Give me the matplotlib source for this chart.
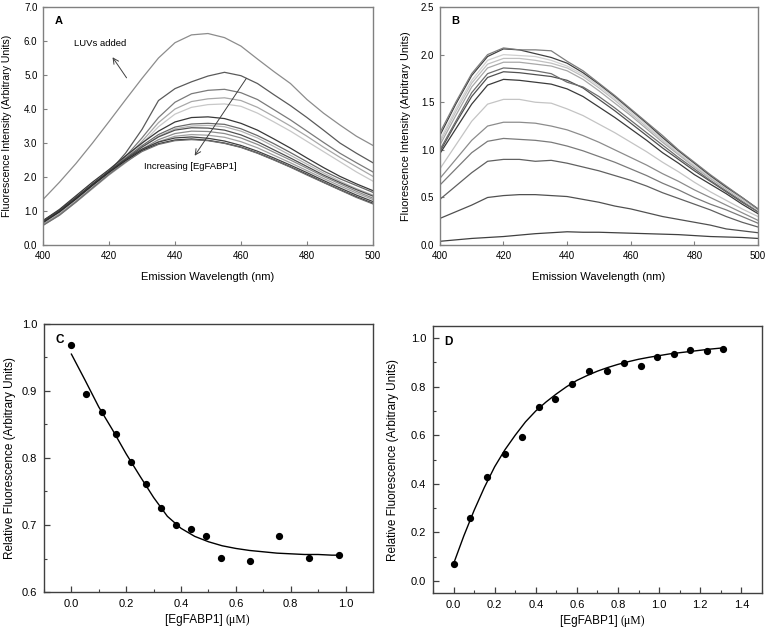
import numpy as np
import matplotlib
matplotlib.use("Agg")
import matplotlib.pyplot as plt

plt.rcParams['font.family'] = ['Liberation Sans', 'DejaVu Sans']

# ---- panel A: tryptophan-like emission spectra (5 nm steps, 400-500 nm)
wl = np.arange(400, 501, 5)
a_curves = [
    [1.34, 1.85, 2.40, 3.00, 3.63, 4.27, 4.90, 5.50, 5.95, 6.18, 6.22, 6.10, 5.85, 5.47, 5.10, 4.75, 4.28, 3.88, 3.53, 3.20, 2.93],
    [0.72, 1.02, 1.40, 1.78, 2.15, 2.70, 3.40, 4.25, 4.60, 4.80, 4.97, 5.08, 4.98, 4.75, 4.42, 4.10, 3.75, 3.38, 3.00, 2.70, 2.42],
    [0.68, 0.98, 1.35, 1.75, 2.15, 2.60, 3.15, 3.75, 4.20, 4.45, 4.55, 4.58, 4.48, 4.28, 3.98, 3.68, 3.35, 3.02, 2.70, 2.42, 2.15],
    [0.65, 0.95, 1.33, 1.72, 2.12, 2.55, 3.05, 3.60, 4.00, 4.22, 4.30, 4.33, 4.25, 4.05, 3.78, 3.50, 3.20, 2.88, 2.58, 2.30, 2.02],
    [0.62, 0.92, 1.30, 1.70, 2.10, 2.50, 2.98, 3.48, 3.85, 4.05, 4.13, 4.15, 4.08, 3.88, 3.62, 3.35, 3.05, 2.75, 2.45, 2.15, 1.88],
    [0.72, 1.05, 1.45, 1.85, 2.22, 2.62, 3.00, 3.35, 3.62, 3.75, 3.77, 3.72, 3.58, 3.38, 3.12, 2.85, 2.56, 2.28, 2.02, 1.80, 1.60],
    [0.70, 1.00, 1.38, 1.78, 2.16, 2.55, 2.92, 3.25, 3.47, 3.56, 3.58, 3.55, 3.42, 3.22, 2.98, 2.72, 2.45, 2.18, 1.95, 1.75, 1.55],
    [0.62, 0.92, 1.30, 1.70, 2.10, 2.50, 2.88, 3.20, 3.42, 3.50, 3.52, 3.48, 3.35, 3.15, 2.90, 2.64, 2.38, 2.12, 1.88, 1.66, 1.47],
    [0.68, 0.98, 1.36, 1.76, 2.14, 2.52, 2.88, 3.18, 3.38, 3.45, 3.44, 3.38, 3.24, 3.04, 2.80, 2.56, 2.31, 2.06, 1.84, 1.63, 1.44],
    [0.60, 0.90, 1.28, 1.68, 2.08, 2.46, 2.82, 3.10, 3.28, 3.35, 3.34, 3.28, 3.15, 2.96, 2.73, 2.50, 2.26, 2.02, 1.80, 1.58, 1.38],
    [0.58, 0.88, 1.26, 1.66, 2.06, 2.42, 2.78, 3.04, 3.20, 3.25, 3.23, 3.17, 3.04, 2.86, 2.64, 2.42, 2.19, 1.96, 1.74, 1.53, 1.34],
    [0.70, 1.02, 1.40, 1.80, 2.18, 2.52, 2.82, 3.03, 3.15, 3.18, 3.14, 3.06, 2.93, 2.76, 2.56, 2.35, 2.13, 1.90, 1.68, 1.47, 1.28],
    [0.66, 0.98, 1.36, 1.76, 2.14, 2.48, 2.78, 2.98, 3.09, 3.12, 3.08, 3.00, 2.88, 2.71, 2.51, 2.30, 2.08, 1.85, 1.63, 1.42, 1.23],
    [0.58, 0.88, 1.27, 1.68, 2.08, 2.44, 2.75, 2.96, 3.07, 3.10, 3.07, 2.99, 2.87, 2.70, 2.50, 2.29, 2.06, 1.84, 1.62, 1.40, 1.21],
]
a_colors = ['#8c8c8c', '#5a5a5a', '#7a7a7a', '#a8a8a8', '#c8c8c8', '#383838', '#6a6a6a',
            '#b4b4b4', '#505050', '#8c8c8c', '#a0a0a0', '#404040', '#2a2a2a', '#707070']

# ---- panel B: probe emission spectra
b_curves = [
    [0.04, 0.055, 0.07, 0.08, 0.09, 0.105, 0.12, 0.13, 0.14, 0.135, 0.135, 0.13, 0.125, 0.12, 0.115, 0.11, 0.10, 0.09, 0.085, 0.08, 0.07],
    [0.28, 0.35, 0.42, 0.50, 0.52, 0.53, 0.53, 0.52, 0.51, 0.48, 0.45, 0.41, 0.38, 0.34, 0.30, 0.27, 0.24, 0.21, 0.17, 0.15, 0.13],
    [0.48, 0.62, 0.76, 0.88, 0.90, 0.90, 0.88, 0.89, 0.86, 0.82, 0.78, 0.73, 0.68, 0.62, 0.55, 0.49, 0.43, 0.37, 0.30, 0.24, 0.19],
    [0.63, 0.80, 0.97, 1.09, 1.12, 1.11, 1.10, 1.08, 1.04, 0.99, 0.93, 0.87, 0.80, 0.73, 0.65, 0.58, 0.50, 0.43, 0.37, 0.30, 0.23],
    [0.70, 0.90, 1.10, 1.25, 1.29, 1.29, 1.28, 1.25, 1.21, 1.15, 1.08, 1.00, 0.92, 0.84, 0.75, 0.67, 0.58, 0.50, 0.42, 0.34, 0.26],
    [0.80, 1.05, 1.30, 1.48, 1.53, 1.53, 1.50, 1.49, 1.43, 1.36, 1.27, 1.18, 1.08, 0.98, 0.87, 0.77, 0.66, 0.56, 0.47, 0.38, 0.30],
    [0.96, 1.22, 1.48, 1.68, 1.74, 1.73, 1.71, 1.69, 1.64, 1.56, 1.45, 1.34, 1.22, 1.10, 0.97, 0.86, 0.74, 0.64, 0.54, 0.43, 0.33],
    [0.98, 1.28, 1.56, 1.76, 1.82, 1.81, 1.79, 1.77, 1.73, 1.65, 1.53, 1.41, 1.28, 1.15, 1.02, 0.90, 0.78, 0.67, 0.56, 0.45, 0.35],
    [1.00, 1.30, 1.60, 1.80, 1.86, 1.85, 1.83, 1.80, 1.71, 1.66, 1.56, 1.44, 1.31, 1.18, 1.05, 0.92, 0.80, 0.68, 0.57, 0.46, 0.35],
    [1.05, 1.36, 1.66, 1.86, 1.92, 1.92, 1.90, 1.88, 1.83, 1.74, 1.62, 1.49, 1.36, 1.22, 1.08, 0.95, 0.82, 0.70, 0.59, 0.48, 0.37],
    [1.08, 1.40, 1.70, 1.90, 1.96, 1.96, 1.94, 1.91, 1.86, 1.77, 1.65, 1.52, 1.38, 1.24, 1.10, 0.96, 0.83, 0.71, 0.60, 0.48, 0.37],
    [1.10, 1.43, 1.73, 1.94, 2.00, 1.99, 1.98, 1.94, 1.88, 1.79, 1.67, 1.54, 1.40, 1.26, 1.11, 0.97, 0.84, 0.72, 0.60, 0.49, 0.37],
    [1.15, 1.48, 1.78, 1.98, 2.06, 2.05, 2.01, 1.97, 1.91, 1.81, 1.69, 1.56, 1.42, 1.28, 1.13, 0.99, 0.86, 0.73, 0.61, 0.50, 0.38],
    [1.18, 1.50, 1.80, 2.00, 2.07, 2.05, 2.05, 2.04, 1.93, 1.83, 1.70, 1.57, 1.43, 1.29, 1.15, 1.00, 0.87, 0.74, 0.62, 0.50, 0.38],
]
b_colors = ['#404040', '#505050', '#606060', '#7a7a7a', '#8c8c8c', '#c4c4c4', '#3a3a3a',
            '#505050', '#6e6e6e', '#a8a8a8', '#c0c0c0', '#d0d0d0', '#404040', '#7c7c7c']

# ---- panel C: quenching titration
c_x = [0.0, 0.054, 0.110, 0.163, 0.218, 0.272, 0.326, 0.381, 0.435, 0.490, 0.544, 0.652, 0.759, 0.867, 0.975]
c_y = [0.968, 0.895, 0.869, 0.836, 0.794, 0.761, 0.725, 0.700, 0.694, 0.684, 0.651, 0.647, 0.684, 0.651, 0.655]
c_fit_x = [0.0, 0.05, 0.1, 0.15, 0.2, 0.25, 0.3, 0.35, 0.4, 0.45, 0.5, 0.55, 0.6, 0.65, 0.7, 0.75, 0.8, 0.85, 0.9, 0.95, 0.975]
c_fit_y = [0.955, 0.916, 0.876, 0.842, 0.806, 0.773, 0.741, 0.713, 0.695, 0.683, 0.675, 0.669, 0.665, 0.662, 0.660, 0.658, 0.657, 0.656, 0.656, 0.655, 0.655]

# ---- panel D: binding titration
d_x = [0.0, 0.079, 0.162, 0.252, 0.333, 0.415, 0.495, 0.575, 0.657, 0.748, 0.828, 0.910, 0.990, 1.072, 1.152, 1.233, 1.311]
d_y = [0.069, 0.258, 0.426, 0.523, 0.592, 0.717, 0.750, 0.812, 0.865, 0.865, 0.897, 0.887, 0.923, 0.935, 0.953, 0.948, 0.955]
d_fit_x = [0.0, 0.05, 0.1, 0.15, 0.2, 0.25, 0.3, 0.35, 0.4, 0.45, 0.5, 0.55, 0.6, 0.65, 0.7,
           0.75, 0.8, 0.85, 0.9, 0.95, 1.0, 1.05, 1.1, 1.15, 1.2, 1.25, 1.3]
d_fit_y = [0.07, 0.185, 0.29, 0.385, 0.47, 0.54, 0.60, 0.655, 0.70, 0.737, 0.77, 0.80, 0.826, 0.846, 0.864,
           0.879, 0.892, 0.903, 0.913, 0.921, 0.928, 0.935, 0.940, 0.945, 0.950, 0.955, 0.959]

fig = plt.figure(figsize=(7.69, 6.35), dpi=100)
axA = fig.add_axes([0.0559, 0.614, 0.4291, 0.375])
axB = fig.add_axes([0.572, 0.614, 0.4137, 0.375])
axC = fig.add_axes([0.0572, 0.0677, 0.4278, 0.4221])
axD = fig.add_axes([0.563, 0.0661, 0.4278, 0.4205])


def style_spectrum(ax):
    for s in ax.spines.values():
        s.set_color('#808080')
        s.set_linewidth(1.0)
    ax.tick_params(direction='in', length=3, width=0.8, color='#808080', labelsize=7, pad=4)
    ax.set_xlim(400, 500)
    ax.set_xticks(range(400, 501, 20))
    ax.set_xlabel('Emission Wavelength (nm)', fontsize=8)
    ax.xaxis.set_label_coords(0.5, -0.113)


for ys, col in zip(a_curves, a_colors):
    axA.plot(wl, ys, color=col, lw=0.9)
style_spectrum(axA)
axA.set_ylim(0, 7)
axA.set_yticks(np.arange(0, 7.01, 1.0))
axA.set_yticklabels([f'{v:.1f}' for v in np.arange(0, 7.01, 1.0)])
axA.set_ylabel('Fluorescence Intensity (Arbitrary Units)', fontsize=7.6)
axA.yaxis.set_label_coords(-0.094, 0.5)
axA.text(0.035, 0.93, 'A', transform=axA.transAxes, fontsize=8, fontweight='bold')
axA.annotate('', xy=(420.6, 5.59), xytext=(425.8, 4.85),
             arrowprops=dict(arrowstyle='->', color='#404040', lw=0.7))
axA.text(417.3, 5.94, 'LUVs added', fontsize=6.8, ha='center', va='center')
axA.annotate('', xy=(445.5, 2.56), xytext=(462.1, 4.97),
             arrowprops=dict(arrowstyle='->', color='#404040', lw=0.7))
axA.text(444.5, 2.32, 'Increasing [EgFABP1]', fontsize=6.8, ha='center', va='center')

for ys, col in zip(b_curves, b_colors):
    axB.plot(wl, ys, color=col, lw=0.9)
style_spectrum(axB)
axB.set_ylim(0, 2.5)
axB.set_yticks(np.arange(0, 2.51, 0.5))
axB.set_yticklabels([f'{v:.1f}' for v in np.arange(0, 2.51, 0.5)])
axB.set_ylabel('Fluorescence Intensity (Arbitrary Units)', fontsize=7.8)
axB.yaxis.set_label_coords(-0.091, 0.5)
axB.text(0.035, 0.93, 'B', transform=axB.transAxes, fontsize=8, fontweight='bold')


def style_titration(ax, split):
    for s in ax.spines.values():
        s.set_color('#404040')
        s.set_linewidth(1.0)
    ax.tick_params(which='both', direction='in', color='#404040', labelsize=8, pad=5)
    ax.tick_params(which='major', length=4, width=0.9)
    ax.tick_params(which='minor', length=2.5, width=0.8)
    ax.set_ylabel('Relative Fluorescence (Arbitrary Units)', fontsize=8.5)
    ax.text(split, -0.105, '[EgFABP1] ', transform=ax.transAxes, ha='right', va='center', fontsize=8.5)
    ax.text(split, -0.105, '(\u03bcM)', transform=ax.transAxes, ha='left', va='center', fontsize=8.5,
            family=['Liberation Serif', 'DejaVu Serif'])


axC.plot(c_fit_x, c_fit_y, color='black', lw=1.0)
axC.plot(c_x, c_y, 'o', color='black', ms=4.2)
axC.set_xlim(-0.1, 1.1)
axC.set_ylim(0.6, 1.0)
axC.set_xticks(np.arange(0, 1.01, 0.2))
axC.set_xticks(np.arange(-0.1, 1.11, 0.1), minor=True)
axC.set_yticks(np.arange(0.6, 1.01, 0.1))
axC.set_yticks(np.arange(0.6, 1.01, 0.05), minor=True)
axC.xaxis.set_major_formatter(matplotlib.ticker.FormatStrFormatter('%.1f'))
axC.yaxis.set_major_formatter(matplotlib.ticker.FormatStrFormatter('%.1f'))
style_titration(axC, 0.553)
axC.yaxis.set_label_coords(-0.086, 0.5)
axC.text(0.035, 0.93, 'C', transform=axC.transAxes, fontsize=8.5, fontweight='bold')

axD.plot(d_fit_x, d_fit_y, color='black', lw=1.0)
axD.plot(d_x, d_y, 'o', color='black', ms=4.2)
axD.set_xlim(-0.1, 1.5)
axD.set_ylim(-0.05, 1.05)
axD.set_xticks(np.arange(0, 1.41, 0.2))
axD.set_xticks(np.arange(-0.1, 1.51, 0.1), minor=True)
axD.set_yticks(np.arange(0, 1.01, 0.2))
axD.set_yticks(np.arange(0.1, 1.01, 0.2), minor=True)
axD.xaxis.set_major_formatter(matplotlib.ticker.FormatStrFormatter('%.1f'))
axD.yaxis.set_major_formatter(matplotlib.ticker.FormatStrFormatter('%.1f'))
style_titration(axD, 0.571)
axD.yaxis.set_label_coords(-0.103, 0.5)
axD.text(0.035, 0.93, 'D', transform=axD.transAxes, fontsize=8.5, fontweight='bold')

fig.savefig('out.png', dpi=100)
